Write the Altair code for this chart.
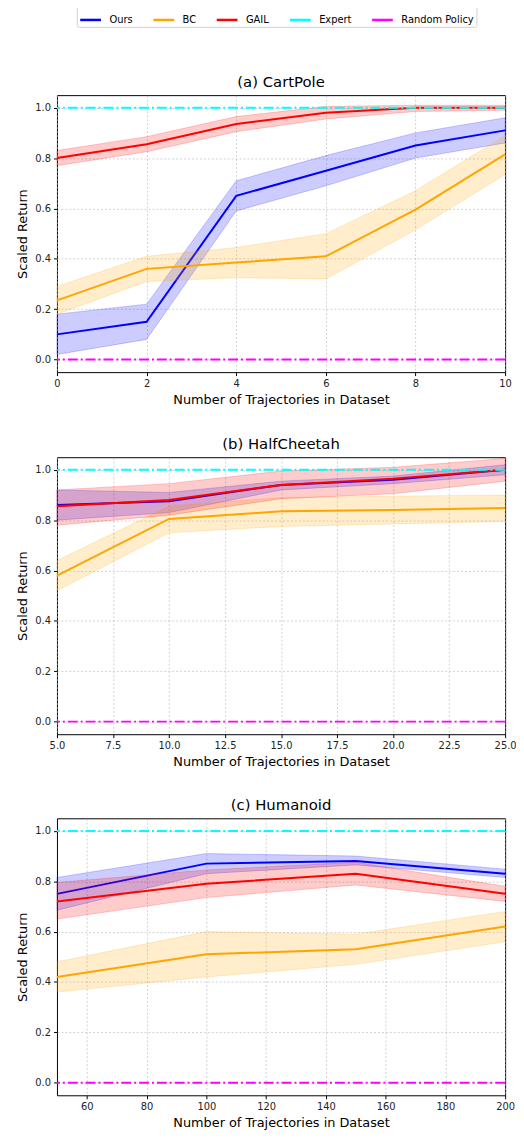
import altair as alt
import pandas as pd

FONT = "DejaVu Sans"
legend_order = ["Ours", "BC", "GAIL", "Expert", "Random Policy"]
legend_colors = ["#0000ff", "#ffa500", "#ff0000", "#00ffff", "#ff00ff"]
methods = ["Ours", "BC", "GAIL"]

# (a) CartPole
cp_x = [0, 2, 4, 6, 8, 10]
cp_ours = [0.10, 0.15, 0.65, 0.75, 0.85, 0.91]
cp_ours_lo = [0.02, 0.08, 0.59, 0.69, 0.80, 0.86]
cp_ours_hi = [0.18, 0.22, 0.71, 0.81, 0.90, 0.96]
cp_bc = [0.235, 0.36, 0.385, 0.41, 0.595, 0.815]
cp_bc_lo = [0.18, 0.31, 0.325, 0.32, 0.515, 0.735]
cp_bc_hi = [0.29, 0.41, 0.445, 0.50, 0.67, 0.89]
cp_gail = [0.80, 0.855, 0.935, 0.98, 1.0, 1.0]
cp_gail_lo = [0.77, 0.825, 0.905, 0.955, 0.985, 0.99]
cp_gail_hi = [0.83, 0.885, 0.965, 1.005, 1.01, 1.01]

# (b) HalfCheetah
hc_x = [5, 10, 15, 20, 25]
hc_ours = [0.86, 0.875, 0.94, 0.96, 1.0]
hc_ours_lo = [0.80, 0.83, 0.92, 0.945, 0.98]
hc_ours_hi = [0.92, 0.91, 0.955, 0.975, 1.02]
hc_bc = [0.58, 0.805, 0.835, 0.84, 0.848]
hc_bc_lo = [0.52, 0.75, 0.775, 0.785, 0.795]
hc_bc_hi = [0.64, 0.855, 0.89, 0.895, 0.90]
hc_gail = [0.855, 0.88, 0.94, 0.965, 1.0]
hc_gail_lo = [0.78, 0.82, 0.885, 0.905, 0.955]
hc_gail_hi = [0.92, 0.945, 0.995, 1.01, 1.045]

# (c) Humanoid
hu_x = [50, 100, 150, 200]
hu_ours = [0.75, 0.87, 0.88, 0.83]
hu_ours_lo = [0.685, 0.83, 0.865, 0.815]
hu_ours_hi = [0.815, 0.91, 0.90, 0.848]
hu_bc = [0.42, 0.51, 0.53, 0.62]
hu_bc_lo = [0.36, 0.42, 0.47, 0.56]
hu_bc_hi = [0.48, 0.60, 0.59, 0.68]
hu_gail = [0.72, 0.79, 0.83, 0.75]
hu_gail_lo = [0.65, 0.735, 0.785, 0.72]
hu_gail_hi = [0.795, 0.845, 0.875, 0.78]

y_ticks = [0.0, 0.2, 0.4, 0.6, 0.8, 1.0]

color_scale = alt.Scale(domain=legend_order, range=legend_colors)
legend = alt.Legend(
    title=None, orient="none", direction="horizontal", legendX=20, legendY=-90,
    offset=0,
    symbolType="stroke", symbolSize=441, symbolStrokeWidth=2.5, symbolOpacity=1,
    labelFont=FONT, labelFontSize=10, labelColor="#000000", labelOffset=7,
    columnPadding=15, padding=2, strokeColor="#d0d0d0", cornerRadius=2,
    fillColor="#ffffff",
)


def panel(title, xs, series, xdomain, xvalues, xformat):
    rows = []
    for m, (mean, lo, hi) in series.items():
        for x, a, b, c in zip(xs, mean, lo, hi):
            rows.append({"method": m, "x": x, "y": a, "lo": b, "hi": c})
    df = pd.DataFrame(rows)
    xenc = alt.X("x:Q", scale=alt.Scale(domain=xdomain, nice=False, zero=False),
                 axis=alt.Axis(values=xvalues, format=xformat,
                               title="Number of Trajectories in Dataset"))
    yscale = alt.Scale(domain=[-0.05, 1.05], nice=False)
    color = alt.Color("method:N", scale=color_scale, legend=legend)
    layers = []
    base = alt.Chart(df)
    for m in methods:
        sub = base.transform_filter(alt.datum.method == m)
        layers.append(sub.mark_area(fillOpacity=0.2, strokeOpacity=0.2, strokeWidth=1).encode(
            x=xenc,
            y=alt.Y("lo:Q", scale=yscale, axis=alt.Axis(values=y_ticks, format=".1f", title="Scaled Return")),
            y2="hi:Q", color=color, stroke=color))
        layers.append(sub.mark_line(strokeWidth=2).encode(
            x=xenc, y=alt.Y("y:Q", scale=yscale), color=color))
    ref = pd.DataFrame({"method": ["Expert", "Random Policy"], "y": [1.0, 0.0]})
    layers.append(alt.Chart(ref).mark_rule(strokeDash=[10, 3, 2, 3], strokeWidth=2).encode(
        y=alt.Y("y:Q", scale=yscale), color=color))
    return alt.layer(*layers).properties(
        width=453, height=280,
        title=alt.TitleParams(title, font=FONT, fontSize=15, fontWeight="normal", offset=5),
    )


p1 = panel("(a) CartPole", cp_x, {
    "Ours": (cp_ours, cp_ours_lo, cp_ours_hi),
    "BC": (cp_bc, cp_bc_lo, cp_bc_hi),
    "GAIL": (cp_gail, cp_gail_lo, cp_gail_hi)}, [0, 10], [0, 2, 4, 6, 8, 10], "d")
p2 = panel("(b) HalfCheetah", hc_x, {
    "Ours": (hc_ours, hc_ours_lo, hc_ours_hi),
    "BC": (hc_bc, hc_bc_lo, hc_bc_hi),
    "GAIL": (hc_gail, hc_gail_lo, hc_gail_hi)}, [5, 25],
    [5, 7.5, 10, 12.5, 15, 17.5, 20, 22.5, 25], ".1f")
p3 = panel("(c) Humanoid", hu_x, {
    "Ours": (hu_ours, hu_ours_lo, hu_ours_hi),
    "BC": (hu_bc, hu_bc_lo, hu_bc_hi),
    "GAIL": (hu_gail, hu_gail_lo, hu_gail_hi)}, [50, 200],
    [60, 80, 100, 120, 140, 160, 180, 200], "d")

chart = alt.vconcat(p1, p2, p3, spacing=29).resolve_scale(color="shared").resolve_legend(
    color="shared").properties(
    padding={"top": -9, "left": 8.5, "right": -1, "bottom": -6}
).configure_view(stroke="#000000", strokeWidth=1).configure_axis(
    labelFont=FONT, labelFontSize=10, labelColor="#222222",
    titleFont=FONT, titleFontSize=13, titleFontWeight="normal", titleColor="#000000",
    grid=True, gridDash=[2, 2], gridColor="#b0b0b0", gridOpacity=0.7, gridWidth=0.8,
    domain=False, tickColor="#000000", tickSize=3.5, labelPadding=3, titlePadding=5,
    labelFlush=False,
).configure_title(anchor="middle", color="#000000")

chart.save("out.html", embed_options={"renderer": "svg", "actions": False})
